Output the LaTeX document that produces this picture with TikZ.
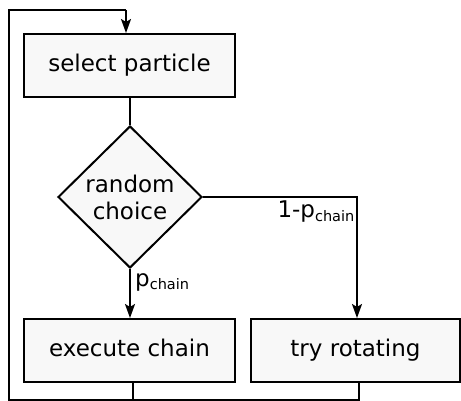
\documentclass[tikz,border=0pt]{standalone}
\usepackage{fontspec}
\setmainfont{DejaVu Sans}
\usetikzlibrary{shapes.geometric,arrows.meta}
\definecolor{boxfill}{HTML}{F8F8F8}
\tikzset{
  stepbox/.style={draw=black, line width=2pt, fill=boxfill, rectangle, inner sep=0pt,
    text height=17pt, text depth=5pt, font=\fontsize{23}{27}\selectfont},
  choicebox/.style={draw=black, line width=2pt, fill=boxfill, diamond, inner sep=0pt,
    minimum width=144pt, minimum height=142pt, align=center, font=\fontsize{23}{27}\selectfont},
  conn/.style={line width=2pt, draw=black},
  arr/.style={conn, -{Stealth[length=14pt,width=10pt,inset=3pt]}},
  lbl/.style={font=\fontsize{23}{26}\selectfont, inner sep=0pt}
}
\newcommand{\chainsub}{\textsubscript{\fontsize{14.5}{16}\selectfont chain}}
\begin{document}
\begin{tikzpicture}[x=1pt,y=-1pt]
\useasboundingbox (0,0) rectangle (461,401);
\node[stepbox, minimum width=211pt, minimum height=63pt] (sel) at (129.5,65.5) {select particle};
\node[choicebox] (dec) at (130,197) {random\\choice};
\node[stepbox, minimum width=211pt, minimum height=63pt] (exe) at (129.5,350.5) {execute chain};
\node[stepbox, minimum width=209pt, minimum height=63pt] (rot) at (355.5,350.5) {try rotating};
\coordinate (bl) at (9,399.5);
\coordinate (tl) at (9,10);
\coordinate (bj) at (133,399.5);
% main flow
\draw[conn] (sel.south -| dec.north) -- (dec.north);
\draw[arr] (dec.south) -- (exe.north -| dec.south);
\draw[arr] (dec.east) -| ([xshift=1.5pt]rot.north);
% loop back
\draw[conn] ([xshift=3.5pt]exe.south) -- (bj) -- (bl) -- (tl) -- ([xshift=-3.5pt]sel.north |- tl);
\draw[arr] ([xshift=-3.5pt]sel.north |- tl) -- ([xshift=-3.5pt]sel.north);
\draw[conn] ([xshift=3.5pt]rot.south) -- ([xshift=3.5pt]rot.south |- bj) -- (bj);
% labels
\node[lbl, anchor=north east] (l1) at (355,201) {1-p\chainsub};
\node[lbl, anchor=north west] (l2) at (135,273) {p\chainsub};
\end{tikzpicture}
\end{document}
